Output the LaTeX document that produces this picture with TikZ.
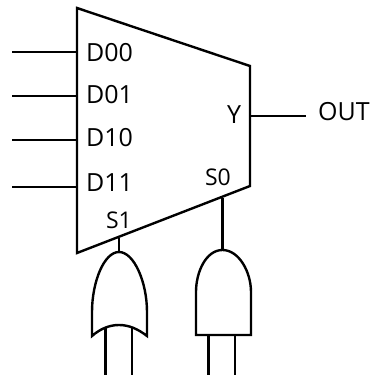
\documentclass[tikz,border=0pt]{standalone}
\usepackage{fontspec}
\setmainfont{Open Sans}
\tikzset{
  wire/.style={line width=2.4pt,line join=miter,black},
  lbl/.style={inner sep=0pt,font=\fontsize{25pt}{27pt}\selectfont},
  sel/.style={inner sep=0pt,font=\fontsize{23pt}{26pt}\selectfont},
}
\begin{document}
\begin{tikzpicture}[x=1pt,y=-1pt]
\useasboundingbox (0,0) rectangle (371,375);
% mux body
\draw[wire] (77,8) -- (250,66) -- (250,186) -- (77,253) -- cycle;
% labels
\node[lbl,anchor=west] (d00) at (86,53) {D00};
\node[lbl,anchor=west] (d01) at (86,95) {D01};
\node[lbl,anchor=west] (d10) at (86,138) {D10};
\node[lbl,anchor=west] (d11) at (86,183) {D11};
\node[lbl,anchor=center] (y) at (234,115) {Y};
\node[lbl,anchor=west] (out) at (318,112) {OUT};
\node[sel,anchor=center] (s0) at (218,177) {S0};
\node[sel,anchor=center] (s1) at (119,220) {S1};
% input wires
\coordinate (i0) at (12,52); \coordinate (p0) at (77,52);
\coordinate (i1) at (12,96); \coordinate (p1) at (77,96);
\coordinate (i2) at (12,140); \coordinate (p2) at (77,140);
\coordinate (i3) at (12,187); \coordinate (p3) at (77,187);
\draw[wire] (i0) -- (p0);
\draw[wire] (i1) -- (p1);
\draw[wire] (i2) -- (p2);
\draw[wire] (i3) -- (p3);
% output
\coordinate (yp) at (250,116); \coordinate (oe) at (306,116);
\draw[wire] (yp) -- (oe);
% select wires
\coordinate (s1b) at (119,238); \coordinate (ort) at (119,252);
\coordinate (s0b) at (222.5,198); \coordinate (andt) at (222.5,250);
\draw[wire] (s1b) -- (ort);
\draw[wire] (s0b) -- (andt);
% OR gate
\draw[wire,miter limit=10] (ort) .. controls (104,252) and (92,282) .. (92,312) -- (92,336)
  .. controls (100,329) and (109,325) .. (119,325)
  .. controls (129,325) and (138,329) .. (147,336) -- (147,312)
  .. controls (147,282) and (134,252) .. (ort);
\draw[wire] (105.5,328) -- (105.5,375);
\draw[wire] (132,328) -- (132,375);
% AND gate
\draw[wire] (andt) .. controls (206,250) and (196,272) .. (196,292) -- (196,335) -- (251,335) -- (251,292)
  .. controls (251,272) and (239,250) .. (andt);
\draw[wire] (208.5,335) -- (208.5,375);
\draw[wire] (235,335) -- (235,375);
\end{tikzpicture}
\end{document}
